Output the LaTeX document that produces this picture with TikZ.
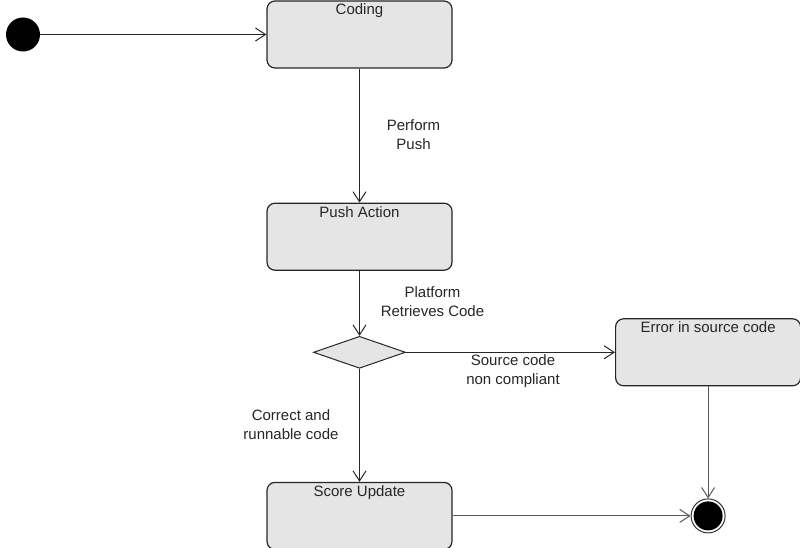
\documentclass[tikz,border=0pt]{standalone}
\usepackage{fontspec}
\setmainfont{Liberation Sans}
\usetikzlibrary{positioning, shapes.geometric, arrows.meta}

\tikzset{
  state/.style={draw=black!85, line width=1.2pt, fill=black!10, rounded corners=8pt,
    minimum width=185pt, minimum height=67pt, inner sep=0pt},
  statetext/.style={anchor=north, inner sep=0pt, yshift=-3.5pt, text=black!85},
  decision/.style={diamond, draw=black!85, line width=1pt, fill=black!10,
    minimum width=92pt, minimum height=32pt, inner sep=0pt},
  startstate/.style={circle, fill=black, minimum size=34pt, inner sep=0pt},
  endstate/.style={circle, draw=black!80, line width=1pt, fill=white, minimum size=34pt, inner sep=0pt,
    path picture={\fill[black] (path picture bounding box.center) circle (14.5pt);}},
  edgelabel/.style={align=center, inner sep=0pt, text=black!85},
  flow/.style={-{Straight Barb[length=10pt,width=13pt]}, line width=1pt, draw=black!85},
}

\begin{document}
\begin{tikzpicture}[x=1pt, y=-1pt, font=\fontsize{15pt}{19pt}\selectfont]
  \useasboundingbox (0,0) rectangle (800,548);

  \node [state, label={[statetext]north:Coding}] (coding) at (359.5,34.5) {};
  \node [startstate] (start) at (23,34.5) {};
  \node [state, below=134pt of coding, label={[statetext]north:Push Action}] (push) {};
  \node [decision, below=65pt of push] (check) {};
  \node [state, below=113pt of check, label={[statetext]north:Score Update}] (score) {};
  \node [state, right=209pt of check, label={[statetext]north:Error in source code}] (error) {};
  \node [endstate, below=112pt of error] (final) {};

  \draw [flow] (start) -- (coding);
  \draw [flow] (coding) -- node [edgelabel, xshift=54pt, yshift=0.5pt] (pushlbl) {Perform\\Push} (push);
  \draw [flow] (push) -- node [edgelabel, xshift=73pt, yshift=1.5pt] (fetchlbl) {Platform\\Retrieves Code} (check);
  \draw [flow] (check) -- node [edgelabel, xshift=2.5pt, yshift=-18.5pt] (badlbl) {Source code\\non compliant} (error);
  \draw [flow] (check) -- node [edgelabel, xshift=-68.5pt, yshift=0.5pt] (goodlbl) {Correct and\\runnable code} (score);
  \draw [flow, draw=black!65] (error) -- (final);
  \draw [flow, draw=black!65] (score) -- (final);
\end{tikzpicture}
\end{document}
